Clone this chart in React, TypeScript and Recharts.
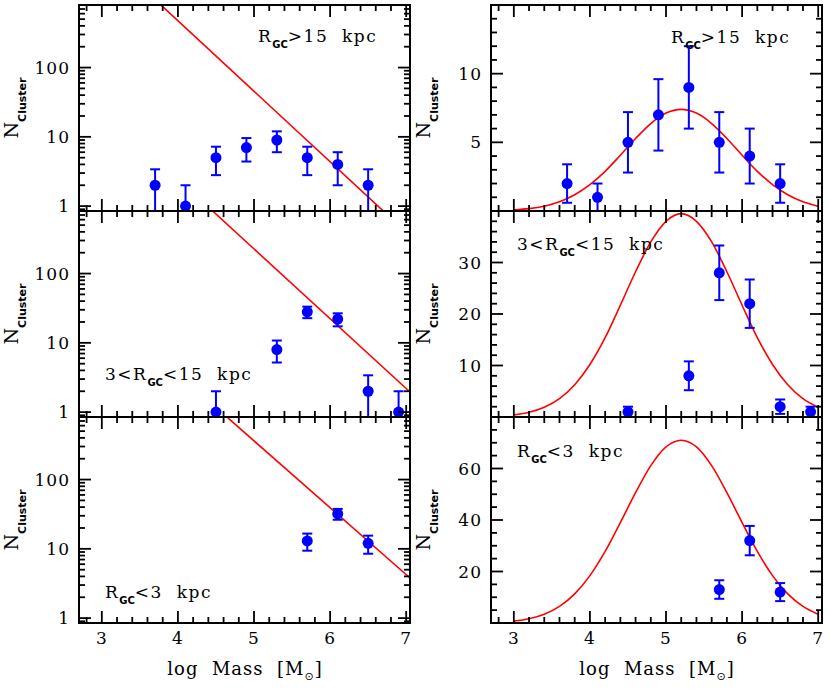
import React from "react";
import { ComposedChart, Scatter, Line, XAxis, YAxis, ErrorBar } from "recharts";

const W = 830;
const H = 692;

// R_GC > 15 kpc
const outerX = [3.7, 4.1, 4.5, 4.9, 5.3, 5.7, 6.1, 6.5];
const outerN = [2, 1, 5, 7, 9, 5, 4, 2];
const outerErr = [1.4, 1, 2.2, 2.6, 3, 2.2, 2, 1.4];

// 3 < R_GC < 15 kpc
const midX = [4.5, 5.3, 5.7, 6.1, 6.5, 6.9];
const midN = [1, 8, 28, 22, 2, 1];
const midErr = [1, 2.8, 5.3, 4.7, 1.4, 1];

// R_GC < 3 kpc
const innerX = [5.7, 6.1, 6.5];
const innerN = [13, 32, 12];
const innerErr = [3.6, 5.7, 3.5];

// power-law fits (end points, log panels)
const powOuterX = [3.5, 7.0];
const powOuterY = [1530, 0.42];
const powMidX = [4.3, 7.05];
const powMidY = [1150, 1.95];
const powInnerX = [4.5, 7.05];
const powInnerY = [1100, 3.8];

// gaussian fits
const gaussX = [3.0, 3.2, 3.4, 3.6, 3.8, 4.0, 4.2, 4.4, 4.6, 4.8, 5.0, 5.2, 5.4, 5.6, 5.8, 6.0, 6.2, 6.4, 6.6, 6.8, 7.0];
const gaussOuter = [0.08, 0.17, 0.35, 0.67, 1.18, 1.92, 2.89, 4.06, 5.28, 6.37, 7.13, 7.4, 7.13, 6.37, 5.28, 4.06, 2.89, 1.92, 1.18, 0.67, 0.35];
const gaussMid = [0.42, 0.92, 1.89, 3.57, 6.28, 10.2, 15.4, 21.7, 28.2, 34.0, 38.0, 39.5, 38.0, 34.0, 28.2, 21.7, 15.4, 10.2, 6.28, 3.57, 1.89];
const gaussInner = [0.76, 1.66, 3.39, 6.43, 11.3, 18.4, 27.8, 39.0, 50.6, 61.1, 68.4, 71, 68.4, 61.1, 50.6, 39.0, 27.8, 18.4, 11.3, 6.43, 3.39];

// ticks
const massTicks = [2.8, 3, 3.2, 3.4, 3.6, 3.8, 4, 4.2, 4.4, 4.6, 4.8, 5, 5.2, 5.4, 5.6, 5.8, 6, 6.2, 6.4, 6.6, 6.8, 7];
const massMajor = [3, 4, 5, 6, 7];
const logTicks = [0.9, 1, 2, 3, 4, 5, 6, 7, 8, 9, 10, 20, 30, 40, 50, 60, 70, 80, 90, 100, 200, 300, 400, 500, 600, 700, 800];
const logMajor = [1, 10, 100];
const outerTicks = [1, 2, 3, 4, 5, 6, 7, 8, 9, 10, 11, 12, 13, 14];
const outerMajor = [5, 10];
const midTicks = [2, 4, 6, 8, 10, 12, 14, 16, 18, 20, 22, 24, 26, 28, 30, 32, 34, 36, 38];
const midMajor = [10, 20, 30];
const innerTicks = [5, 10, 15, 20, 25, 30, 35, 40, 45, 50, 55, 60, 65, 70, 75];
const innerMajor = [20, 40, 60];

const rowTop = [5, 211, 417];
const rowH = 206;
const colLeft = [79, 491];
const colW = 331;
const xDomain = [2.7, 7.05];
const logMin = 0.85;

const BLUE = "#0000ff";
const RED = "#ff0000";
const serif = "'DejaVu Serif', 'Liberation Serif', serif";
const sans = "'DejaVu Sans', sans-serif";
const tickFont: React.CSSProperties = { fontFamily: serif, fontSize: 17, letterSpacing: 1, fill: "#000" };
const frame = { stroke: "#000", strokeWidth: 2, strokeLinecap: "square" as const };

type Side = "bottom" | "top" | "left" | "right";

function makeTick(side: Side, majors: number[], label: boolean) {
  return (props: any) => {
    const { x, y, payload } = props;
    const v = payload.value;
    const isMajor = majors.some((m) => Math.abs(m - v) < 1e-6);
    const len = isMajor ? 12 : 6;
    let x2 = x;
    let y2 = y;
    if (side === "bottom") y2 = y - len;
    if (side === "top") y2 = y + len;
    if (side === "left") x2 = x + len;
    if (side === "right") x2 = x - len;
    return (
      <g>
        <line x1={x} y1={y} x2={x2} y2={y2} stroke="#000" strokeWidth={1.8} />
        {label && isMajor && side === "bottom" && (
          <text x={x} y={y + 21} textAnchor="middle" style={tickFont}>{v}</text>
        )}
        {label && isMajor && side === "left" && (
          <text x={x - 9} y={y} dy="0.36em" textAnchor="end" style={tickFont}>{v}</text>
        )}
      </g>
    );
  };
}

const dot = (props: any) => <circle cx={props.cx} cy={props.cy} r={5.5} fill={BLUE} />;

interface PanelProps {
  row: number;
  col: number;
  xs: number[];
  ns: number[];
  errs: number[];
  fitX: number[];
  fitY: number[];
  log: boolean;
  yDomain: number[];
  yTicks: number[];
  yMajor: number[];
}

function Panel(p: PanelProps) {
  const top = rowTop[p.row];
  const left = colLeft[p.col];
  // axes are 1px thick bands, so pull the margins in by one pixel
  const margin = { top: top - 1, left: left - 1, right: W - left - colW - 1, bottom: H - top - rowH - 1 };
  const lo = p.yDomain[0];
  const pts = p.xs.map((x, i) => ({
    x,
    y: p.ns[i],
    err: [Math.min(p.errs[i], p.ns[i] - lo), p.errs[i]],
  }));
  const fit = p.fitX.map((x, i) => ({ x, y: p.fitY[i] }));
  const showX = p.row === 2;
  const scale = p.log ? "log" : "linear";
  return (
    <div style={{ position: "absolute", left: 0, top: 0 }}>
      <ComposedChart width={W} height={H} margin={margin}>
        <XAxis xAxisId="b" dataKey="x" type="number" orientation="bottom" domain={xDomain} allowDataOverflow
          ticks={massTicks} interval={0} height={1} tickSize={0} tickMargin={0} axisLine={frame} tickLine={false}
          tick={makeTick("bottom", massMajor, showX)} />
        <XAxis xAxisId="t" dataKey="x" type="number" orientation="top" domain={xDomain} allowDataOverflow
          ticks={massTicks} interval={0} height={1} tickSize={0} tickMargin={0} axisLine={frame} tickLine={false}
          tick={makeTick("top", massMajor, false)} />
        <YAxis yAxisId="l" dataKey="y" type="number" scale={scale} orientation="left" domain={p.yDomain} allowDataOverflow
          ticks={p.yTicks} interval={0} width={1} tickSize={0} tickMargin={0} axisLine={frame} tickLine={false}
          tick={makeTick("left", p.yMajor, true)} />
        <YAxis yAxisId="r" dataKey="y" type="number" scale={scale} orientation="right" domain={p.yDomain} allowDataOverflow
          ticks={p.yTicks} interval={0} width={1} tickSize={0} tickMargin={0} axisLine={frame} tickLine={false}
          tick={makeTick("right", p.yMajor, false)} />
        <Line xAxisId="b" yAxisId="l" data={fit} dataKey="y" type={p.log ? "linear" : "monotone"} stroke={RED}
          strokeWidth={1.6} dot={false} activeDot={false} isAnimationActive={false} />
        <Scatter xAxisId="b" yAxisId="l" data={pts} dataKey="y" shape={dot} isAnimationActive={false}>
          <ErrorBar dataKey="err" direction="y" width={5} stroke={BLUE} strokeWidth={2} isAnimationActive={false} />
        </Scatter>
      </ComposedChart>
    </div>
  );
}

function Region({ x, y, pre, rel, post }: { x: number; y: number; pre: string; rel: string; post: string }) {
  return (
    <text x={x} y={y} style={{ fontFamily: serif, fontSize: 17, letterSpacing: 1.5, whiteSpace: "pre" }} fill="#000">
      <tspan>{pre}R</tspan>
      <tspan dy={6} style={{ fontFamily: sans, fontSize: 10, fontWeight: "bold", letterSpacing: 0 }}>GC</tspan>
      <tspan dy={-6}>{rel + post}</tspan>
    </text>
  );
}

function YLabel({ x, y }: { x: number; y: number }) {
  return (
    <text transform={`translate(${x},${y}) rotate(-90)`} textAnchor="middle" fill="#000">
      <tspan style={{ fontFamily: serif, fontSize: 19 }}>N</tspan>
      <tspan dy={8} style={{ fontFamily: sans, fontSize: 11, fontWeight: "bold" }}>Cluster</tspan>
    </text>
  );
}

function XLabel({ x }: { x: number }) {
  return (
    <text x={x} y={675} textAnchor="middle" fill="#000" style={{ fontFamily: serif, fontSize: 18, letterSpacing: 1, whiteSpace: "pre" }}>
      <tspan>{"log  Mass  [M"}</tspan>
      <tspan dy={5} style={{ fontFamily: sans, fontSize: 11 }}>⊙</tspan>
      <tspan dy={-5}>]</tspan>
    </text>
  );
}

export default function App() {
  return (
    <div style={{ position: "absolute", left: 0, top: 0, width: W, height: H, background: "#fff", overflow: "hidden" }}>
      <Panel row={0} col={0} xs={outerX} ns={outerN} errs={outerErr} fitX={powOuterX} fitY={powOuterY} log
        yDomain={[logMin, 800]} yTicks={logTicks} yMajor={logMajor} />
      <Panel row={1} col={0} xs={midX} ns={midN} errs={midErr} fitX={powMidX} fitY={powMidY} log
        yDomain={[logMin, 800]} yTicks={logTicks} yMajor={logMajor} />
      <Panel row={2} col={0} xs={innerX} ns={innerN} errs={innerErr} fitX={powInnerX} fitY={powInnerY} log
        yDomain={[logMin, 800]} yTicks={logTicks} yMajor={logMajor} />
      <Panel row={0} col={1} xs={outerX} ns={outerN} errs={outerErr} fitX={gaussX} fitY={gaussOuter} log={false}
        yDomain={[0, 15]} yTicks={outerTicks} yMajor={outerMajor} />
      <Panel row={1} col={1} xs={midX} ns={midN} errs={midErr} fitX={gaussX} fitY={gaussMid} log={false}
        yDomain={[0, 40]} yTicks={midTicks} yMajor={midMajor} />
      <Panel row={2} col={1} xs={innerX} ns={innerN} errs={innerErr} fitX={gaussX} fitY={gaussInner} log={false}
        yDomain={[0, 80]} yTicks={innerTicks} yMajor={innerMajor} />
      <svg width={W} height={H} style={{ position: "absolute", left: 0, top: 0, pointerEvents: "none" }}>
        <YLabel x={18} y={108} />
        <YLabel x={18} y={314} />
        <YLabel x={18} y={520} />
        <YLabel x={430} y={108} />
        <YLabel x={430} y={314} />
        <YLabel x={430} y={520} />
        <Region x={258} y={42} pre="" rel=">15" post="  kpc" />
        <Region x={671} y={43} pre="" rel=">15" post="  kpc" />
        <Region x={105} y={380} pre="3<" rel="<15" post="  kpc" />
        <Region x={517} y={250} pre="3<" rel="<15" post="  kpc" />
        <Region x={105} y={598} pre="" rel="<3" post="  kpc" />
        <Region x={517} y={457} pre="" rel="<3" post="  kpc" />
        <XLabel x={245} />
        <XLabel x={657} />
      </svg>
    </div>
  );
}
